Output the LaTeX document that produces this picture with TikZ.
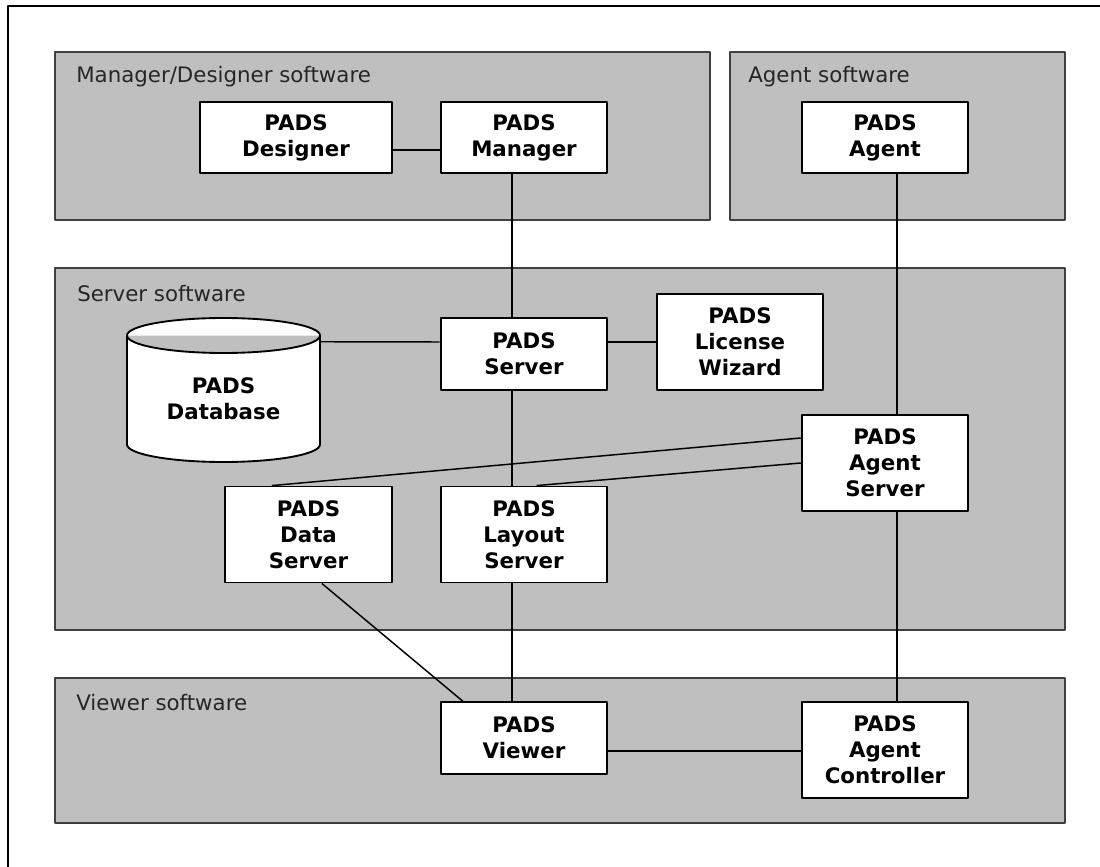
\documentclass[tikz,border=0pt]{standalone}
\usepackage{fontspec}
\setmainfont{DejaVu Sans}
\begin{document}
\begin{tikzpicture}[x=0.75pt, y=-0.75pt, line join=round, font=\fontsize{16pt}{19.5pt}\selectfont,
  panel/.style={draw=black!75, line width=1.2pt, fill=black!25},
  lbl/.style={anchor=base west, inner sep=0pt, text=black!85},
  box/.style={draw, line width=1.4pt, fill=white, align=center, font=\fontsize{16pt}{19.5pt}\selectfont\bfseries, minimum width=125pt, minimum height=53.5pt, inner sep=0pt},
  tall/.style={box, minimum height=72pt},
  wire/.style={line width=1.1pt}]
\useasboundingbox (0,0) rectangle (1100,867);
\draw[line width=1.5pt] (8,867)--(8,6)--(1100,6);
\draw[panel] (55,52) rectangle (710,220) (730,52) rectangle (1065,220) (55,268) rectangle (1065,630) (55,678) rectangle (1065,823);
\node[lbl] (Lm) at (76,83) {Manager/Designer software};
\node[lbl] (La) at (748,83) {Agent software};
\node[lbl] (Ls) at (77,301) {Server software};
\node[lbl] (Lv) at (76,710) {Viewer software};
\node[box, minimum width=144pt] (Des) at (296,137.5) {PADS\\Designer};
\node[box] (Man) at (524,137.5) {PADS\\Manager};
\node[box] (Agt) at (885,137.5) {PADS\\Agent};
\node[box] (Srv) at (524,354) {PADS\\Server};
\node[tall] (Lic) at (740,342) {PADS\\License\\Wizard};
\node[tall] (ASrv) at (885,463) {PADS\\Agent\\Server};
\node[tall] (DSrv) at (308.5,534.5) {PADS\\Data\\Server};
\node[tall] (LSrv) at (524,534.5) {PADS\\Layout\\Server};
\node[box] (View) at (524,738) {PADS\\Viewer};
\node[tall] (Ctrl) at (885,750) {PADS\\Agent\\Controller};
\draw[line width=1.4pt, fill=white] (127,335.5)--(127,444.5) arc[start angle=180, end angle=0, x radius=96.5, y radius=17.5]--(320,335.5)
  (223.5,335.5) ellipse[x radius=96.5, y radius=17.5];
\node[align=center, font=\fontsize{16pt}{19.5pt}\selectfont\bfseries, minimum width=144.75pt, minimum height=94.5pt, inner sep=0pt] (DB) at (223.5,399) {PADS\\Database};
\begin{scope}[wire]
\draw([yshift=-9.4pt]Des.east)--([yshift=-9.4pt]Man.west);
\draw([xshift=-9pt]Man.south)--([xshift=-9pt]Srv.north);
\draw([xshift=-9pt]Srv.south)--([xshift=-9pt]LSrv.north);
\draw([xshift=-9pt]LSrv.south)--([xshift=-9pt]View.north);
\draw([yshift=-4.5pt]DB.north east)--([yshift=9pt]Srv.west);
\draw([yshift=9pt]Srv.east)--(Lic.west);
\draw([xshift=9pt]Agt.south)--([xshift=9pt]ASrv.north);
\draw([xshift=9pt]ASrv.south)--([xshift=9pt]Ctrl.north);
\draw([yshift=18.75pt]ASrv.west)--([xshift=-27.4pt]DSrv.north);
\draw(ASrv.west)--([xshift=9.4pt]LSrv.north);
\draw([xshift=10pt]DSrv.south)--([xshift=-45.75pt]View.north);
\draw([yshift=-9.75pt]View.east)--([yshift=-9.75pt]View.east -| Ctrl.west);
\end{scope}
\end{tikzpicture}
\end{document}
